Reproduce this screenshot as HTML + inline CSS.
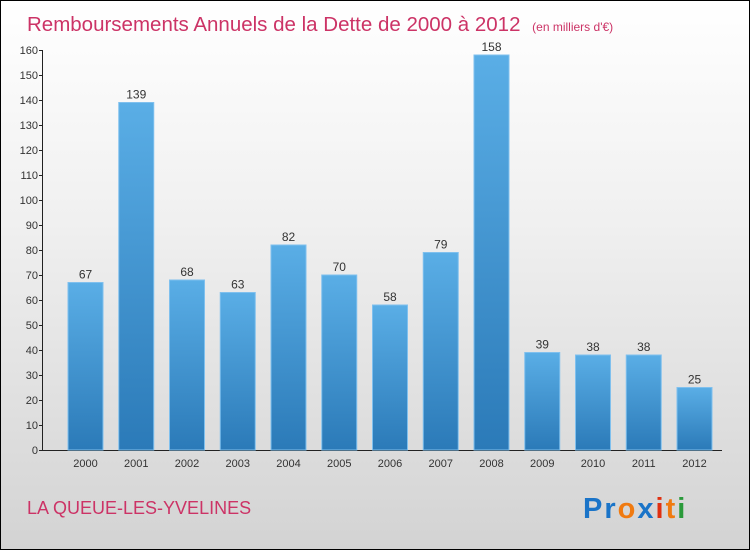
<!DOCTYPE html>
<html><head><meta charset="utf-8"><style>
body{margin:0}
#c{position:relative;width:748px;height:548px;border:1px solid #000;background:linear-gradient(#ffffff,#f0f0f0 40%,#d3d3d3);font-family:"Liberation Sans",sans-serif;overflow:hidden}
</style></head><body>
<div id="c">
<svg id="s" width="748" height="548">
<defs><linearGradient id="g" x1="0" y1="0" x2="0" y2="1"><stop offset="0" stop-color="#5aaee6"/><stop offset="1" stop-color="#2b7ab8"/></linearGradient></defs>
<text x="26" y="30" font-size="20.5" fill="#cc3366">Remboursements Annuels de la Dette de 2000 à 2012 <tspan font-size="12" dx="6">(en milliers d'€)</tspan></text>
<text x="26" y="513" font-size="18" fill="#cc3366">LA QUEUE-LES-YVELINES</text>
<g font-size="29" font-weight="bold" font-family="'Liberation Sans',sans-serif" letter-spacing="2">
<text x="582" y="517"><tspan fill="#1a74c8">Pr</tspan><tspan fill="#f07a10">o</tspan><tspan fill="#1a74c8">x</tspan><tspan fill="#e03010">i</tspan><tspan fill="#f07a10">t</tspan><tspan fill="#2a9a3a">i</tspan></text></g>
<g id="ax"></g><g id="bars"></g>
</svg></div>
<script>
const years=["2000","2001","2002","2003","2004","2005","2006","2007","2008","2009","2010","2011","2012"];
const values=[67,139,68,63,82,70,58,79,158,39,38,38,25];
const ticks=[0,10,20,30,40,50,60,70,80,90,100,110,120,130,140,150,160];
const NS="http://www.w3.org/2000/svg";
const y=v=>449-v*2.5, x=i=>84.5+i*50.75;
function mk(t,a,p){const e=document.createElementNS(NS,t);for(const k in a)e.setAttribute(k,a[k]);p.appendChild(e);return e;}
const ax=document.getElementById('ax'),bars=document.getElementById('bars');
let l=mk('line',{x1:41.5,y1:49,x2:41.5,y2:449,stroke:'#222'},ax);


l=mk('line',{x1:41,y1:449.5,x2:721,y2:449.5,stroke:'#222'},ax);


ticks.forEach(t=>{mk('line',{x1:38,x2:42,y1:y(t)+.5,y2:y(t)+.5,stroke:'#222'},ax);
const e=mk('text',{x:37,y:y(t)+4,'font-size':11,'text-anchor':'end',fill:'#333'},ax);e.textContent=t;

});
years.forEach((yr,i)=>{const v=values[i];
const r=mk('rect',{x:x(i)-17.5,y:y(v),width:35,height:v*2.5,fill:'url(#g)',stroke:'#7fc0ee','stroke-width':1},bars);


const t=mk('text',{x:x(i),y:y(v)-4,'font-size':12,'text-anchor':'middle',fill:'#333'},bars);t.textContent=v;


const xl=mk('text',{x:x(i),y:466,'font-size':11,'text-anchor':'middle',fill:'#333'},bars);xl.textContent=yr;

});
</script>
</body></html>
